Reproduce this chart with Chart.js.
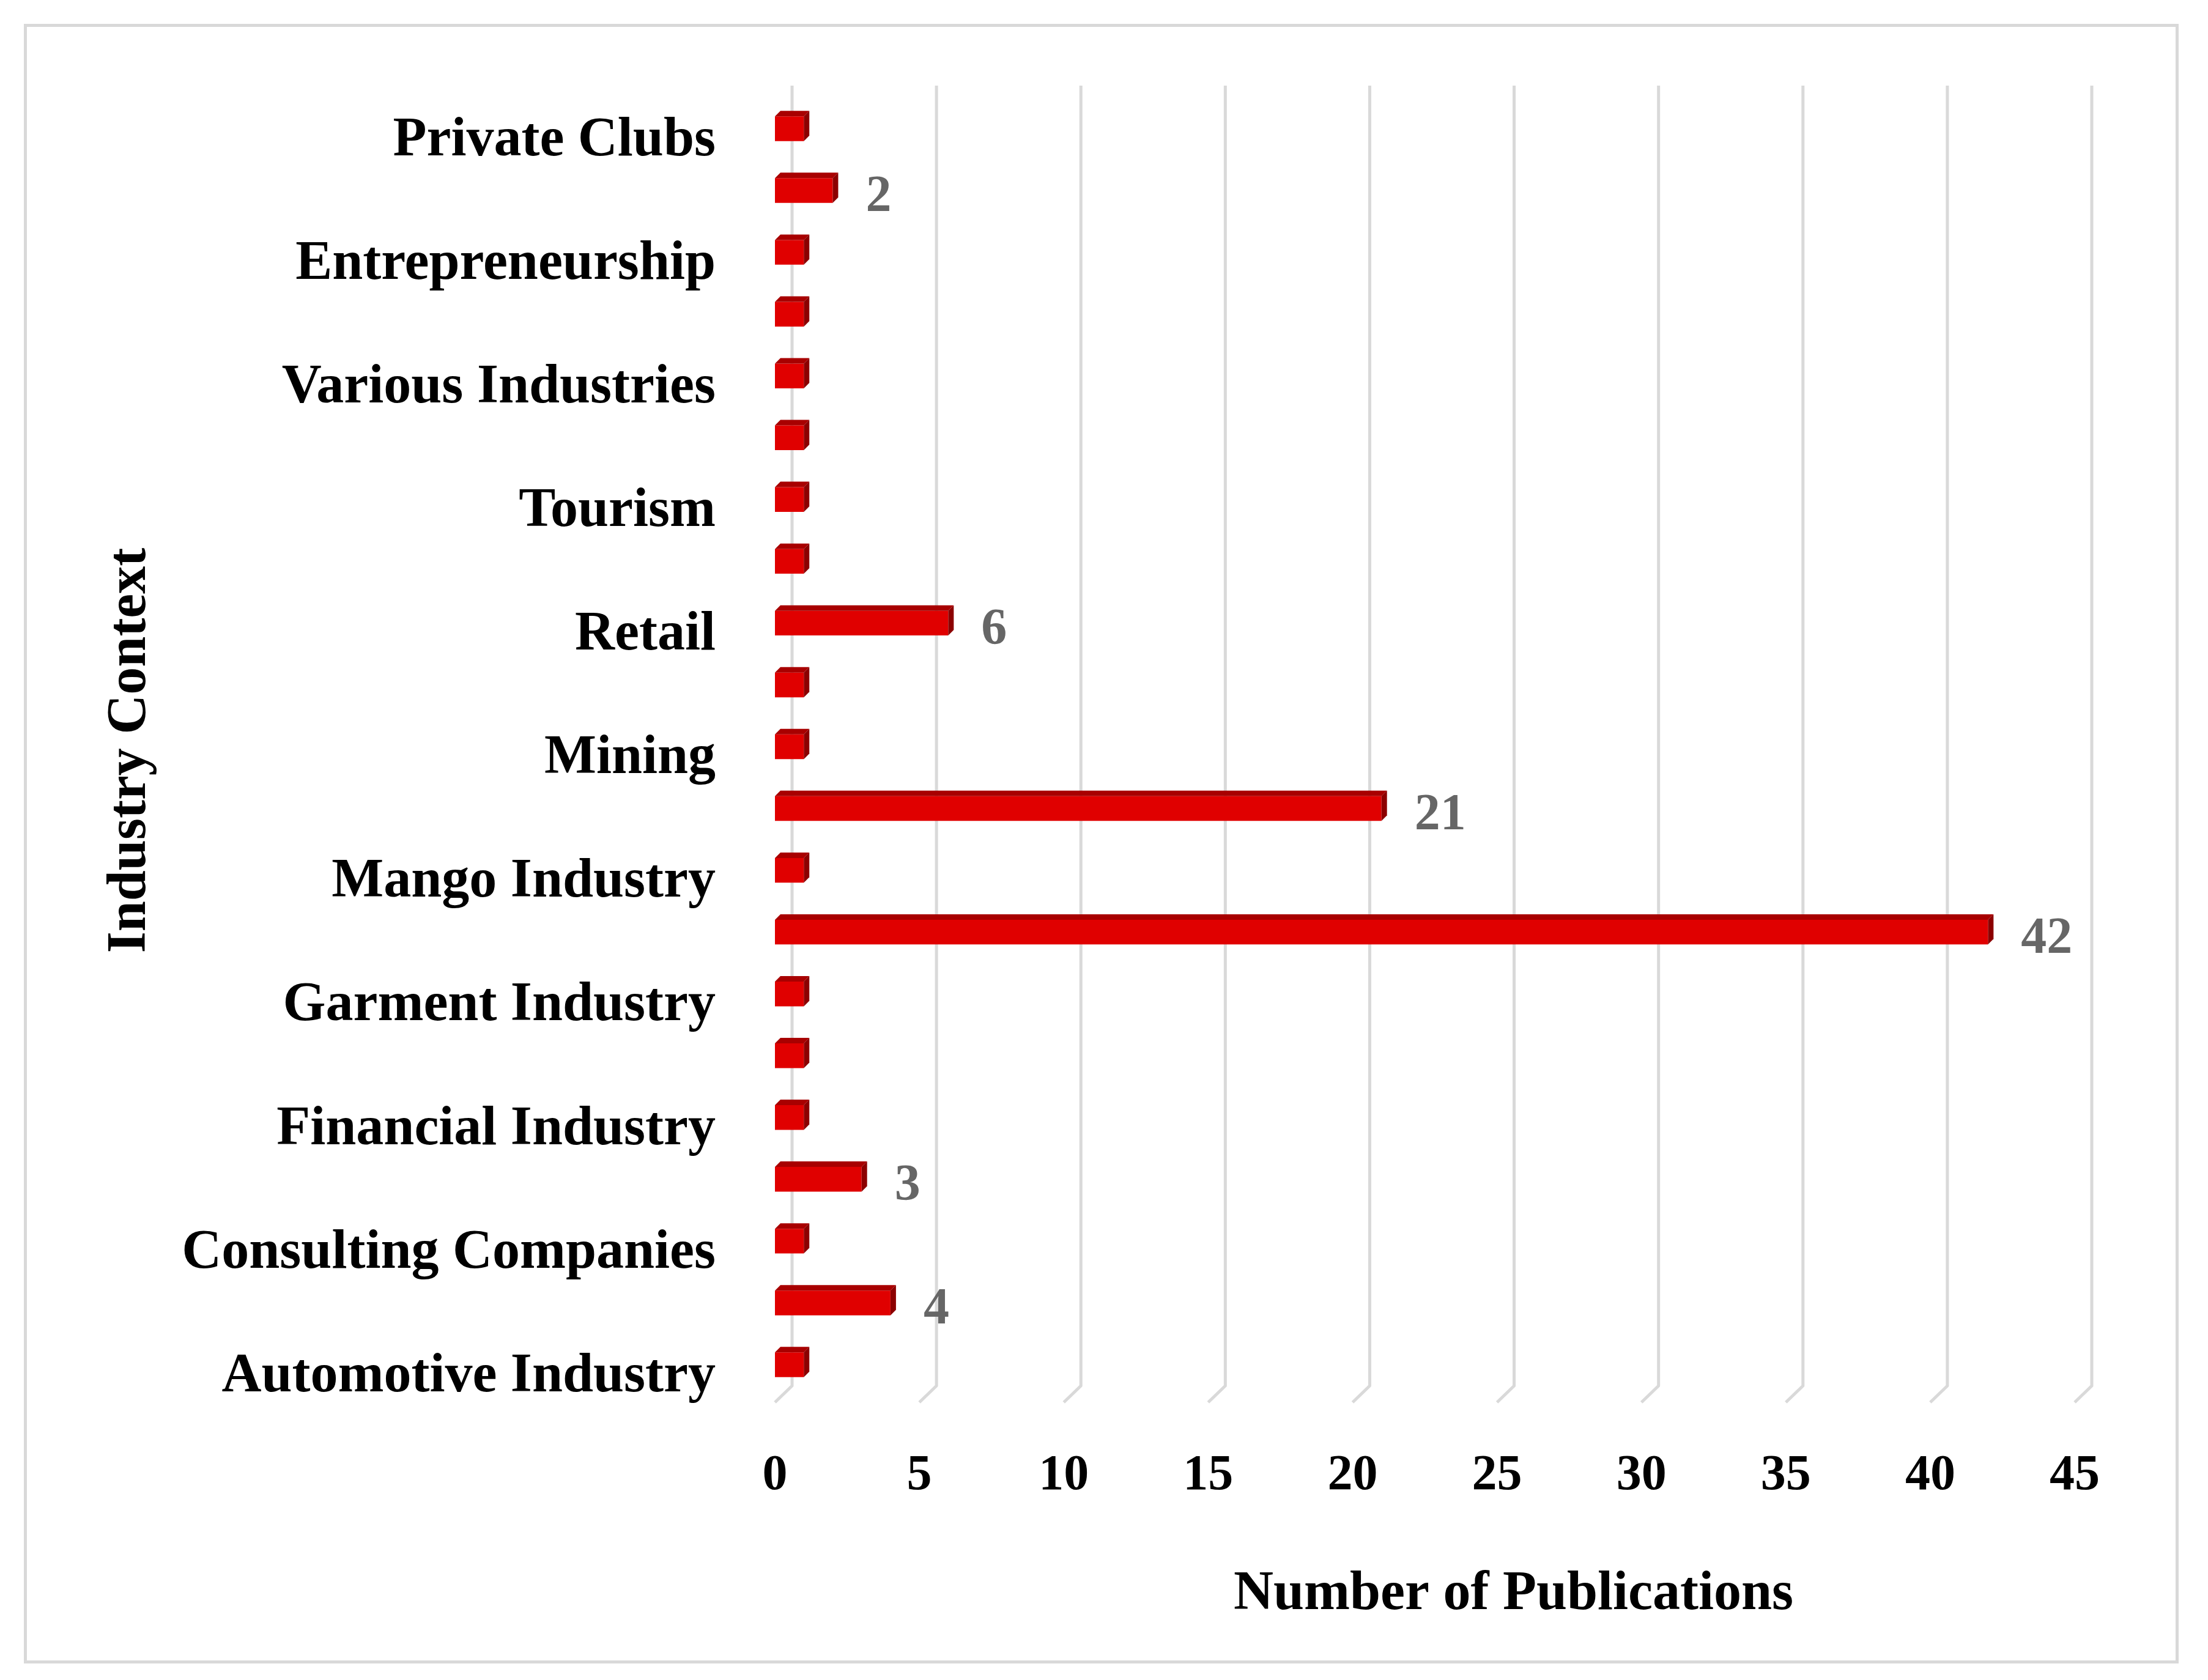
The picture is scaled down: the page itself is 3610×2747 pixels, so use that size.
<!DOCTYPE html>
<html>
<head>
<meta charset="utf-8">
<script src="https://cdn.jsdelivr.net/npm/chart.js@4/dist/chart.umd.min.js"></script>
<style>
  html, body { margin: 0; padding: 0; background: #fff; }
  #wrap { position: relative; width: 3610px; height: 2747px; }
  #frame { position: absolute; left: 39px; top: 39px; width: 3523px; height: 2681px; border: 5px solid #d9d9d9; box-sizing: border-box; }
</style>
</head>
<body>
<div id="wrap">
  <div id="frame"></div>
  <canvas id="chart" width="3610" height="2747"></canvas>
</div>
<script>
// categories top to bottom, only every other one is labelled in the figure
const industries = [
    "Private Clubs", "", "Entrepreneurship", "", "Various Industries", "",
    "Tourism", "", "Retail", "", "Mining", "", "Mango Industry", "",
    "Garment Industry", "", "Financial Industry", "", "Consulting Companies", "",
    "Automotive Industry"
];
const publications = [1, 2, 1, 1, 1, 1, 1, 1, 6, 1, 1, 21, 1, 42, 1, 1, 1, 3, 1, 4, 1];
const xTicks = [0, 5, 10, 15, 20, 25, 30, 35, 40, 45];

const FONT = "'Liberation Serif', 'Times New Roman', serif";
const DEPTH = 9;      // bar depth
const WALL_DX = 28;   // back wall offset
const WALL_DY = 27;

// back wall gridlines with a slanted floor segment
const wallGrid = {
    id: 'wallGrid',
    beforeDatasetsDraw(chart) {
        const ctx = chart.ctx, x = chart.scales.x, a = chart.chartArea;
        ctx.save();
        ctx.strokeStyle = '#d9d9d9';
        ctx.lineWidth = 5;
        ctx.lineJoin = 'round';
        xTicks.forEach(v => {
            let px = x.getPixelForValue(v);
            ctx.beginPath();
            ctx.moveTo(px + WALL_DX, a.top - 20);
            ctx.lineTo(px + WALL_DX, a.bottom - 16);
            ctx.lineTo(px, a.bottom - 16 + WALL_DY);
            ctx.stroke();
        });
        ctx.restore();
    }
};

// top and side faces of the bars, plus value labels
const bars3d = {
    id: 'bars3d',
    afterDatasetsDraw(chart) {
        const ctx = chart.ctx;
        const meta = chart.getDatasetMeta(0);
        ctx.save();
        meta.data.forEach((bar, i) => {
            let p = bar.getProps(['x', 'y', 'base', 'height'], true);
            let top = p.y - p.height / 2, bottom = p.y + p.height / 2;
            ctx.fillStyle = '#a80000';
            ctx.beginPath();
            ctx.moveTo(p.base, top);
            ctx.lineTo(p.base + DEPTH, top - DEPTH);
            ctx.lineTo(p.x + DEPTH, top - DEPTH);
            ctx.lineTo(p.x, top);
            ctx.closePath();
            ctx.fill();
            ctx.fillStyle = '#8c0000';
            ctx.beginPath();
            ctx.moveTo(p.x, top);
            ctx.lineTo(p.x + DEPTH, top - DEPTH);
            ctx.lineTo(p.x + DEPTH, bottom - DEPTH);
            ctx.lineTo(p.x, bottom);
            ctx.closePath();
            ctx.fill();

            if (publications[i] > 1) {
                ctx.fillStyle = '#666666';
                ctx.font = 'bold 84px ' + FONT;
                ctx.textAlign = 'left';
                ctx.textBaseline = 'middle';
                ctx.fillText(publications[i], p.x + DEPTH + 45, p.y + 12);
            }
        });
        ctx.restore();
    }
};

// axis titles
const axisTitles = {
    id: 'axisTitles',
    afterDraw(chart) {
        const ctx = chart.ctx, a = chart.chartArea;
        ctx.save();
        ctx.fillStyle = '#000';
        ctx.font = 'bold 90px ' + FONT;
        ctx.textAlign = 'center';
        ctx.textBaseline = 'middle';
        ctx.fillText('Number of Publications', (a.left + a.right) / 2 + 145, a.bottom + 326);
        ctx.translate(214, (a.top + a.bottom) / 2 + 6);
        ctx.rotate(-Math.PI / 2);
        ctx.fillText('Industry Context', 0, 0);
        ctx.restore();
    }
};

new Chart(document.getElementById('chart'), {
    type: 'bar',
    data: {
        labels: industries,
        datasets: [{
            data: publications,
            backgroundColor: '#e00000',
            borderWidth: 0,
            barPercentage: 0.8,
            categoryPercentage: 0.5
        }]
    },
    options: {
        indexAxis: 'y',
        responsive: false,
        animation: false,
        layout: { padding: { left: 0, top: 160, right: 218, bottom: 0 } },
        plugins: {
            legend: { display: false },
            tooltip: { enabled: false }
        },
        scales: {
            x: {
                min: 0,
                max: 45,
                afterBuildTicks: s => { s.ticks = xTicks.map(v => ({ value: v })); },
                afterFit: s => { s.height = 465; },
                grid: { display: false, drawTicks: false },
                border: { display: false },
                ticks: {
                    padding: 83,
                    color: '#000',
                    font: { family: FONT, size: 82, weight: 'bold' }
                }
            },
            y: {
                afterFit: s => { s.width = 1267; },
                grid: { display: false, drawTicks: false },
                border: { display: false },
                ticks: {
                    autoSkip: false,
                    padding: 97,
                    labelOffset: 20,
                    color: '#000',
                    font: { family: FONT, size: 90, weight: 'bold' }
                }
            }
        }
    },
    plugins: [wallGrid, bars3d, axisTitles]
});
</script>
</body>
</html>
